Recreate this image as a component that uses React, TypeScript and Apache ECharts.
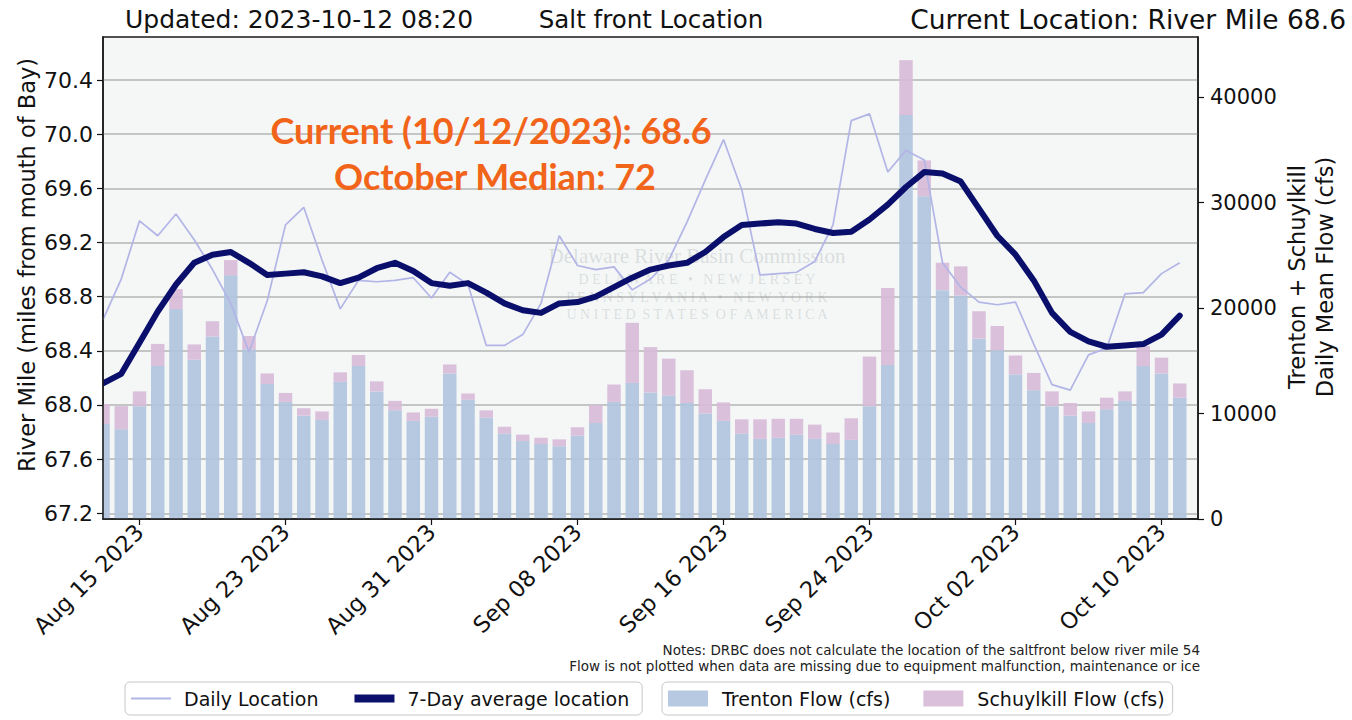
import React, { useEffect, useRef } from "react";
import * as echarts from "echarts";

const dates = [
  "Aug 13 2023", "Aug 14 2023", "Aug 15 2023", "Aug 16 2023", "Aug 17 2023", "Aug 18 2023", "Aug 19 2023", "Aug 20 2023",
  "Aug 21 2023", "Aug 22 2023", "Aug 23 2023", "Aug 24 2023", "Aug 25 2023", "Aug 26 2023", "Aug 27 2023", "Aug 28 2023",
  "Aug 29 2023", "Aug 30 2023", "Aug 31 2023", "Sep 01 2023", "Sep 02 2023", "Sep 03 2023", "Sep 04 2023", "Sep 05 2023",
  "Sep 06 2023", "Sep 07 2023", "Sep 08 2023", "Sep 09 2023", "Sep 10 2023", "Sep 11 2023", "Sep 12 2023", "Sep 13 2023",
  "Sep 14 2023", "Sep 15 2023", "Sep 16 2023", "Sep 17 2023", "Sep 18 2023", "Sep 19 2023", "Sep 20 2023", "Sep 21 2023",
  "Sep 22 2023", "Sep 23 2023", "Sep 24 2023", "Sep 25 2023", "Sep 26 2023", "Sep 27 2023", "Sep 28 2023", "Sep 29 2023",
  "Sep 30 2023", "Oct 01 2023", "Oct 02 2023", "Oct 03 2023", "Oct 04 2023", "Oct 05 2023", "Oct 06 2023", "Oct 07 2023",
  "Oct 08 2023", "Oct 09 2023", "Oct 10 2023", "Oct 11 2023", "Oct 12 2023",
];

const tickDates = ["Aug 15 2023", "Aug 23 2023", "Aug 31 2023", "Sep 08 2023", "Sep 16 2023", "Sep 24 2023", "Oct 02 2023", "Oct 10 2023"];

const trentonFlow = [
  9000, 8500, 10700, 14500, 19900, 15100, 17300, 23100, 16100, 12800,
  11100, 9800, 9400, 13000, 14500, 12100, 10300, 9300, 9700, 13800,
  11300, 9600, 8100, 7400, 7100, 6900, 7900, 9100, 11100, 12900,
  12000, 11700, 11000, 10000, 9300, 8100, 7600, 7700, 8000, 7600,
  7100, 7500, 10700, 14600, 38300, 30600, 21700, 21200, 17100, 16000,
  13700, 12200, 10700, 9800, 9100, 10400, 11200, 14500, 13800, 11500,
];

const schuylkillFlow = [
  1900, 2200, 1400, 2100, 1900, 1450, 1450, 1450, 1250, 1000,
  850, 700, 800, 900, 1050, 950, 900, 800, 750, 850,
  600, 700, 650, 600, 600, 650, 800, 1700, 1650, 5700,
  4300, 3500, 3100, 2300, 1750, 1350, 1850, 1800, 1500, 1350,
  1100, 2050, 4700, 7300, 5200, 3400, 2600, 2750, 2600, 2300,
  1800, 1650, 1400, 1200, 1100, 1100, 900, 1900, 1500, 1350,
];

const dailyLocation = [
  68.63, 68.93, 69.36, 69.25, 69.41, 69.22, 69.0, 68.75, 68.39, 68.77,
  69.33, 69.46, 69.07, 68.71, 68.92, 68.91, 68.92, 68.94, 68.79, 68.98,
  68.89, 68.44, 68.44, 68.52, 68.75, 69.25, 69.03, 69.0, 69.02, 68.85,
  68.93, 69.07, 69.35, 69.66, 69.96, 69.59, 68.96, 68.97, 68.98, 69.06,
  69.33, 70.1, 70.15, 69.72, 69.88, 69.81, 69.05, 68.87, 68.76, 68.74,
  68.76, 68.45, 68.15, 68.11, 68.37, 68.42, 68.82, 68.83, 68.97, 69.05,
];

const sevenDayAvg = [
  68.16, 68.23, 68.46, 68.69, 68.89, 69.05, 69.11, 69.13, 69.05, 68.96,
  68.97, 68.98, 68.95, 68.9, 68.94, 69.01, 69.05, 68.99, 68.9, 68.88,
  68.9, 68.83, 68.75, 68.7, 68.68, 68.75, 68.76, 68.8, 68.87, 68.94,
  69.0, 69.03, 69.05, 69.13, 69.24, 69.33, 69.34, 69.35, 69.34, 69.3,
  69.27, 69.28, 69.37, 69.48, 69.61, 69.72, 69.71, 69.65, 69.45, 69.25,
  69.11, 68.92, 68.68, 68.54, 68.47, 68.43, 68.44, 68.45, 68.52, 68.66,
];

const flowTicks = [0, 10000, 20000, 30000, 40000];

const FONT = "DejaVu Sans";
const INK = "#111111";
const WM = "rgba(140,150,150,0.26)";

export default function App() {
  const ref = useRef<HTMLDivElement>(null);

  useEffect(() => {
    document.body.style.margin = "0";
    const chart = echarts.init(ref.current as HTMLDivElement, null, { renderer: "svg" });
    const showTick = (_i: number, v: string) => tickDates.indexOf(v) >= 0;

    const option: any = {
      animation: false,
      textStyle: { fontFamily: FONT },
      grid: [
        {
          left: 103, right: 154, top: 37, bottom: 201,
          show: true, backgroundColor: "#F4F7F6", borderColor: "#1a1a1a", borderWidth: 1.5,
        },
        { left: 103, right: 154, top: 80, bottom: 206.7, show: false },
      ],
      xAxis: [
        {
          type: "category", gridIndex: 0, data: dates, boundaryGap: false, z: 10,
          axisLine: { lineStyle: { color: "#1a1a1a", width: 1.5 } },
          axisTick: { interval: showTick, length: 6, lineStyle: { color: INK, width: 1.2 } },
          axisLabel: { interval: showTick, rotate: 45, fontSize: 22.5, color: INK, fontFamily: FONT, margin: 9 },
          splitLine: { show: false },
        },
        { type: "category", gridIndex: 1, data: dates, boundaryGap: false, show: false },
      ],
      yAxis: [
        {
          type: "value", gridIndex: 1, position: "left", min: 67.2, max: 70.4, interval: 0.4,
          axisLine: { show: false }, axisTick: { show: false }, axisLabel: { show: false },
          splitLine: { show: true, lineStyle: { color: "#b4b4b4", width: 1.5 } },
        },
        {
          type: "value", gridIndex: 0, position: "right", min: 0, max: 45700, interval: 10000, z: 10,
          axisLine: { show: true, lineStyle: { color: "#1a1a1a", width: 1.5 } },
          axisTick: { show: true, customValues: flowTicks, length: 6, lineStyle: { color: INK, width: 1.2 } },
          axisLabel: { customValues: flowTicks, formatter: (v: number) => String(v), fontSize: 21, color: INK, fontFamily: FONT, margin: 12 },
          splitLine: { show: false },
        },
        {
          type: "value", gridIndex: 1, position: "left", min: 67.2, max: 70.4, interval: 0.4, z: 10,
          axisLine: { show: false },
          axisTick: { show: true, length: 6, lineStyle: { color: INK, width: 1.2 } },
          axisLabel: { formatter: (v: number) => v.toFixed(1), fontSize: 22, color: INK, fontFamily: FONT, margin: 10 },
          splitLine: { show: false },
        },
        {
          type: "value", gridIndex: 0, position: "left", min: 0, max: 45700, z: 10,
          axisLine: { show: true, lineStyle: { color: "#1a1a1a", width: 1.5 } },
          axisTick: { show: false }, axisLabel: { show: false }, splitLine: { show: false },
        },
      ],
      legend: [
        {
          left: 125, top: 682, orient: "horizontal",
          padding: [7, 13, 7, 6], itemGap: 36, itemWidth: 40, itemHeight: 8,
          borderColor: "#c8c8c8", borderWidth: 1, borderRadius: 5,
          backgroundColor: "#ffffff",
          textStyle: { fontSize: 19, color: INK, fontFamily: FONT, padding: [0, 0, 0, 8] },
          data: [
            { name: "Daily Location", icon: "path://M0,0h40v2h-40z", itemStyle: { color: "#b2b5e6" } },
            { name: "7-Day average location", icon: "path://M0,0h40v8h-40z", itemStyle: { color: "#0a0f6b" } },
          ],
        },
        {
          left: 662, top: 682, orient: "horizontal",
          padding: [7, 8, 7, 6], itemGap: 33, itemWidth: 40, itemHeight: 16,
          borderColor: "#c8c8c8", borderWidth: 1, borderRadius: 5,
          backgroundColor: "#ffffff",
          textStyle: { fontSize: 19, color: INK, fontFamily: FONT, padding: [0, 0, 0, 9] },
          data: [
            { name: "Trenton Flow (cfs)", icon: "rect" },
            { name: "Schuylkill Flow (cfs)", icon: "rect" },
          ],
        },
      ],
      series: [
        {
          name: "Trenton Flow (cfs)", type: "bar", xAxisIndex: 0, yAxisIndex: 1, stack: "flow",
          data: trentonFlow, barWidth: 13.5,
          itemStyle: { color: "#B0C4DE", opacity: 0.92 },
        },
        {
          name: "Schuylkill Flow (cfs)", type: "bar", xAxisIndex: 0, yAxisIndex: 1, stack: "flow",
          data: schuylkillFlow, barWidth: 13.5,
          itemStyle: { color: "#D8BBD9", opacity: 0.92 },
        },
        {
          name: "Daily Location", type: "line", xAxisIndex: 1, yAxisIndex: 0,
          data: dailyLocation, symbol: "none", clip: false,
          lineStyle: { color: "#b2b5e6", width: 1.7 },
          itemStyle: { color: "#b2b5e6" },
        },
        {
          name: "7-Day average location", type: "line", xAxisIndex: 1, yAxisIndex: 0,
          data: sevenDayAvg, symbol: "none", clip: false,
          lineStyle: { color: "#0a0f6b", width: 6, join: "round", cap: "round" },
          itemStyle: { color: "#0a0f6b" },
        },
      ],
      graphic: [
        { type: "rect", z: 5, silent: true, shape: { x: 90, y: 380, width: 12.3, height: 140 }, style: { fill: "#ffffff" } },
        { type: "text", x: 125, y: 19, style: { text: "Updated: 2023-10-12 08:20", fill: INK, fontSize: 25, fontFamily: FONT, textAlign: "left", textVerticalAlign: "middle" } },
        { type: "text", x: 651, y: 19, style: { text: "Salt front Location", fill: INK, fontSize: 24.5, fontFamily: FONT, textAlign: "center", textVerticalAlign: "middle" } },
        { type: "text", x: 1346, y: 19, style: { text: "Current Location: River Mile 68.6", fill: INK, fontSize: 26.5, fontFamily: FONT, textAlign: "right", textVerticalAlign: "middle" } },
        { type: "text", x: 27, y: 265, rotation: Math.PI / 2, style: { text: "River Mile (miles from mouth of Bay)", fill: INK, fontSize: 22.5, fontFamily: FONT, textAlign: "center", textVerticalAlign: "middle" } },
        { type: "text", x: 1297, y: 277, rotation: Math.PI / 2, style: { text: "Trenton + Schuylkill", fill: INK, fontSize: 22.5, fontFamily: FONT, textAlign: "center", textVerticalAlign: "middle" } },
        { type: "text", x: 1325, y: 277, rotation: Math.PI / 2, style: { text: "Daily Mean Flow (cfs)", fill: INK, fontSize: 22.5, fontFamily: FONT, textAlign: "center", textVerticalAlign: "middle" } },
        { type: "text", x: 697, y: 256, z: 1, silent: true, style: { text: "Delaware River Basin Commission", fill: WM, fontSize: 21, fontFamily: "Liberation Serif", textAlign: "center", textVerticalAlign: "middle" } },
        { type: "text", x: 697, y: 279, z: 1, silent: true, style: { text: "D E L A W A R E   •   N E W  J E R S E Y", fill: WM, fontSize: 14, fontFamily: "Liberation Serif", textAlign: "center", textVerticalAlign: "middle" } },
        { type: "text", x: 697, y: 297, z: 1, silent: true, style: { text: "P E N N S Y L V A N I A   •   N E W  Y O R K", fill: WM, fontSize: 14, fontFamily: "Liberation Serif", textAlign: "center", textVerticalAlign: "middle" } },
        { type: "text", x: 697, y: 314, z: 1, silent: true, style: { text: "U N I T E D  S T A T E S  O F  A M E R I C A", fill: WM, fontSize: 14, fontFamily: "Liberation Serif", textAlign: "center", textVerticalAlign: "middle" } },
        { type: "text", x: 491, y: 130, z: 10, style: { text: "Current (10/12/2023): 68.6", fill: "#F26419", fontSize: 36, fontWeight: "bold", fontFamily: "Lato", textAlign: "center", textVerticalAlign: "middle" } },
        { type: "text", x: 495, y: 176, z: 10, style: { text: "October Median: 72", fill: "#F26419", fontSize: 36, fontWeight: "bold", fontFamily: "Lato", textAlign: "center", textVerticalAlign: "middle" } },
        { type: "text", x: 1200, y: 650, style: { text: "Notes: DRBC does not calculate the location of the saltfront below river mile 54", fill: "#222222", fontSize: 13.5, fontFamily: FONT, textAlign: "right", textVerticalAlign: "middle" } },
        { type: "text", x: 1200, y: 666, style: { text: "Flow is not plotted when data are missing due to equipment malfunction, maintenance or ice", fill: "#222222", fontSize: 13.5, fontFamily: FONT, textAlign: "right", textVerticalAlign: "middle" } },
      ],
    };

    chart.setOption(option);
    return () => chart.dispose();
  }, []);

  return <div ref={ref} style={{ width: 1352, height: 720 }} />;
}
